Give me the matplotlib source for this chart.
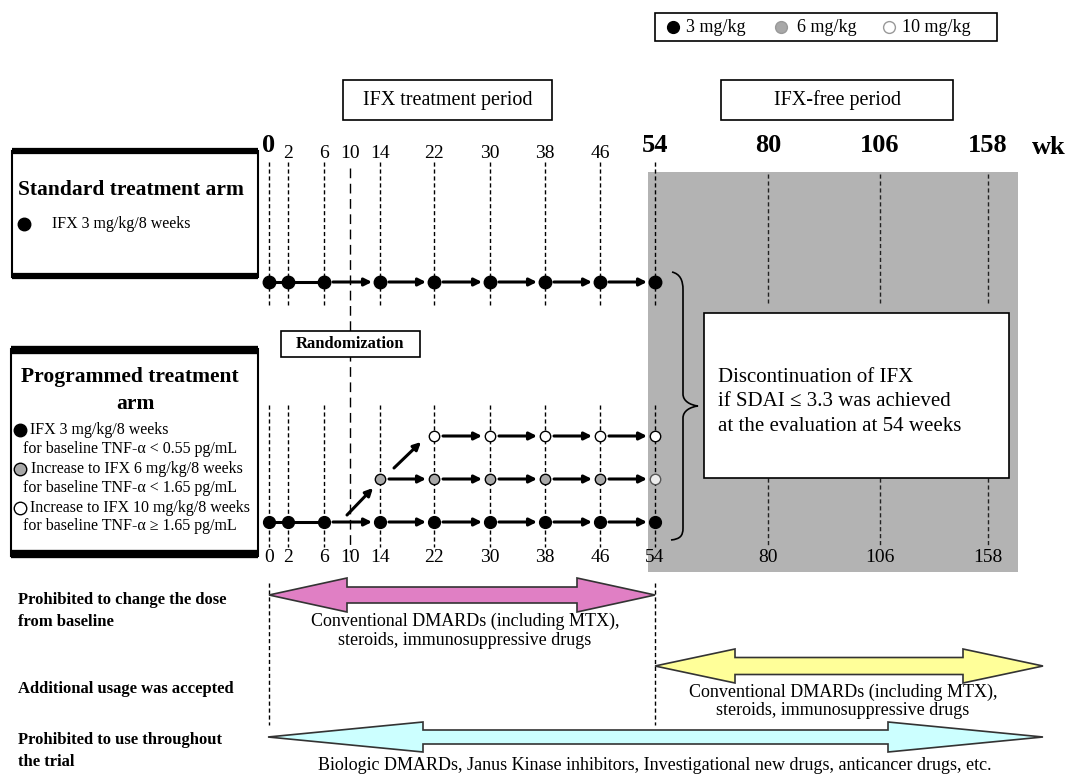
import matplotlib
matplotlib.use("Agg")
import matplotlib.pyplot as plt
from matplotlib.patches import Rectangle, Polygon, PathPatch
from matplotlib.path import Path

plt.rcParams['font.family'] = ['Liberation Serif', 'DejaVu Serif']

# ---- data ----
weeks = [0, 2, 6, 10, 14, 22, 30, 38, 46, 54, 80, 106, 158]
bold_weeks = [0, 54, 80, 106, 158]
dose_weeks = [0, 2, 6, 14, 22, 30, 38, 46, 54]
std_doses = [3, 3, 3, 3, 3, 3, 3, 3, 3]
prog_3_weeks = [0, 2, 6, 14, 22, 30, 38, 46, 54]
prog_6_weeks = [14, 22, 30, 38, 46, 54]
prog_10_weeks = [22, 30, 38, 46, 54]
legend_labels = ['3 mg/kg', '6 mg/kg', '10 mg/kg']
period_labels = ['IFX treatment period', 'IFX-free period']
rule_labels = ['Prohibited to change the dose\nfrom baseline',
               'Additional usage was accepted',
               'Prohibited to use throughout\nthe trial']
drug_text = ['Conventional DMARDs (including MTX),\nsteroids, immunosuppressive drugs',
             'Conventional DMARDs (including MTX),\nsteroids, immunosuppressive drugs',
             'Biologic DMARDs, Janus Kinase inhibitors, Investigational new drugs, anticancer drugs, etc.']

# ---- layout (pixel positions of the week grid) ----
week_x = dict(zip(weeks, [269, 288, 324, 350, 380, 434, 490, 545, 600, 655, 768, 880, 988]))
END_X = 1043
ROW_STD = 282
ROW_10, ROW_6, ROW_3 = 436, 479, 522
dose_color = {3: 'black', 6: '#a8a8a8', 10: 'white'}

fig = plt.figure(figsize=(10.69, 7.74), dpi=100)
ax = fig.add_axes([0, 0, 1, 1])
ax.set_xlim(0, 1069)
ax.set_ylim(774, 0)
ax.axis('off')

# grey IFX-free area
ax.add_patch(Rectangle((648, 172), 370, 400, facecolor='#b3b3b3', edgecolor='none', zorder=0))

# legend box
ax.add_patch(Rectangle((655, 13), 342, 28, facecolor='white', edgecolor='black', lw=1.2))
for (lx, tx), lab, d in zip([(673, 686), (781, 797), (889, 902)], legend_labels, [3, 6, 10]):
    ax.plot(lx, 27, 'o', ms=8.5, mfc=dose_color[d], mec='black' if d == 3 else '#999999', mew=1)
    ax.text(tx, 27, lab, fontsize=13, va='center', ha='left')

# period boxes
for (x0, x1), lab in zip([(343, 552), (721, 953)], period_labels):
    ax.add_patch(Rectangle((x0, 80), x1 - x0, 40, facecolor='white', edgecolor='black', lw=1.2))
    ax.text((x0 + x1) / 2, 100, lab, fontsize=14.5, ha='center', va='center')

# top week labels
for w in weeks:
    if w in bold_weeks:
        ax.text(week_x[w], 146, str(w), fontsize=19, fontweight='bold', ha='center', va='center')
    else:
        ax.text(week_x[w], 153, str(w), fontsize=14, ha='center', va='center')
ax.text(1066, 147, 'wk', fontsize=19, fontweight='bold', ha='right', va='center')

# bottom week labels
for w in weeks:
    ax.text(week_x[w], 557, str(w), fontsize=14, ha='center', va='center')

# dotted week lines
for w in weeks:
    x = week_x[w]
    if w == 10:
        ax.plot([x, x], [168, 552], color='black', lw=1, ls=(0, (7, 4)), zorder=1)
    elif w <= 54:
        ax.plot([x, x], [162, 305], color='black', lw=1, ls=(0, (3, 2)), zorder=1)
        ax.plot([x, x], [405, 547], color='black', lw=1, ls=(0, (3, 2)), zorder=1)
    else:
        ax.plot([x, x], [174, 303], color='#222222', lw=1, ls=(0, (3, 2)), zorder=1)
        ax.plot([x, x], [478, 545], color='#222222', lw=1, ls=(0, (3, 2)), zorder=1)


def dose_row(wlist, y, color, ms, first_line=False):
    xs = [week_x[w] for w in wlist]
    for i in range(len(xs) - 1):
        if first_line and wlist[i + 1] <= 6:
            ax.plot([xs[i], xs[i + 1]], [y, y], color='black', lw=2.2, zorder=2)
        else:
            ax.annotate('', xy=(xs[i + 1] - 8, y), xytext=(xs[i] + 9, y),
                        arrowprops=dict(arrowstyle='-|>', color='black', lw=2.2,
                                        mutation_scale=11, shrinkA=0, shrinkB=0), zorder=2)
    for w, x in zip(wlist, xs):
        fc = color
        ec = 'black'
        if w == 54 and color == dose_color[6]:
            fc, ec = '#ececec', '#555555'
        ax.plot(x, y, 'o', ms=ms, mfc=fc, mec=ec, mew=1, zorder=3)


# standard arm row
dose_row(dose_weeks, ROW_STD, dose_color[std_doses[0]], 9, first_line=True)
# programmed arm rows
dose_row(prog_3_weeks, ROW_3, dose_color[3], 8.5, first_line=True)
dose_row(prog_6_weeks, ROW_6, dose_color[6], 7.5)
dose_row(prog_10_weeks, ROW_10, dose_color[10], 7.5)
# dose escalation arrows
ax.annotate('', xy=(week_x[14] - 7, ROW_6 + 9), xytext=(week_x[10] - 3, ROW_3 - 7),
            arrowprops=dict(arrowstyle='-|>', color='black', lw=2.2, mutation_scale=11,
                            shrinkA=0, shrinkB=0))
ax.annotate('', xy=(week_x[22] - 13, ROW_10 + 6), xytext=(week_x[14] + 14, ROW_6 - 11),
            arrowprops=dict(arrowstyle='-|>', color='black', lw=2.2, mutation_scale=11,
                            shrinkA=0, shrinkB=0))

# randomization box
ax.add_patch(Rectangle((281, 331), 139, 26, facecolor='white', edgecolor='black', lw=1.2, zorder=4))
ax.text(350.5, 344, 'Randomization', fontsize=12, fontweight='bold', ha='center', va='center', zorder=5)

# standard arm box
ax.add_patch(Rectangle((12, 151), 246, 126, facecolor='white', edgecolor='black', lw=1.5))
ax.plot([12, 258], [151, 151], color='black', lw=4.5, solid_capstyle='butt')
ax.plot([12, 258], [276, 276], color='black', lw=4.5, solid_capstyle='butt')
ax.text(18, 190, 'Standard treatment arm', fontsize=15.5, fontweight='bold', va='center')
ax.plot(24, 224, 'o', ms=9, color='black')
ax.text(52, 224, 'IFX 3 mg/kg/8 weeks', fontsize=11.5, va='center')

# programmed arm box
ax.add_patch(Rectangle((11, 349), 247, 207, facecolor='white', edgecolor='black', lw=1.5))
ax.plot([11, 258], [350, 350], color='black', lw=6, solid_capstyle='butt')
ax.plot([11, 258], [554, 554], color='black', lw=6, solid_capstyle='butt')
ax.text(130, 377, 'Programmed treatment', fontsize=15.5, fontweight='bold', ha='center', va='center')
ax.text(135, 404, 'arm', fontsize=15.5, fontweight='bold', ha='center', va='center')
prog_lines = [('IFX 3 mg/kg/8 weeks', 30, 430), ('for baseline TNF-α < 0.55 pg/mL', 23, 449),
              ('Increase to IFX 6 mg/kg/8 weeks', 31, 469), ('for baseline TNF-α < 1.65 pg/mL', 23, 488),
              ('Increase to IFX 10 mg/kg/8 weeks', 30, 508), ('for baseline TNF-α ≥ 1.65 pg/mL', 23, 526)]
for txt, x, y in prog_lines:
    ax.text(x, y, txt, fontsize=11.5, va='center')
for y, d in zip([430, 469, 508], [3, 6, 10]):
    ax.plot(20, y, 'o', ms=9, mfc=dose_color[d], mec='black', mew=1)

# brace
brace = Path([(672, 272), (680, 274), (683, 280), (683, 290),
              (683, 394),
              (683, 401), (690, 405), (698, 406),
              (690, 407), (683, 411), (683, 418),
              (683, 528),
              (683, 536), (680, 539), (671, 540)],
             [Path.MOVETO, Path.CURVE4, Path.CURVE4, Path.CURVE4,
              Path.LINETO,
              Path.CURVE4, Path.CURVE4, Path.CURVE4,
              Path.CURVE4, Path.CURVE4, Path.CURVE4,
              Path.LINETO,
              Path.CURVE4, Path.CURVE4, Path.CURVE4])
ax.add_patch(PathPatch(brace, facecolor='none', edgecolor='black', lw=1.2))

# discontinuation box
ax.add_patch(Rectangle((704, 313), 305, 165, facecolor='white', edgecolor='black', lw=1.2))
ax.text(718, 402, 'Discontinuation of IFX\nif SDAI ≤ 3.3 was achieved\nat the evaluation at 54 weeks',
        fontsize=15, va='center', ha='left', linespacing=1.4)

# lower dashed guides
for w in [0, 54]:
    ax.plot([week_x[w], week_x[w]], [583, 725], color='black', lw=1, ls=(0, (3, 2)))


def double_arrow(x0, x1, yc, head_len, head_hw, shaft_hw, color):
    pts = [(x0, yc), (x0 + head_len, yc - head_hw), (x0 + head_len, yc - shaft_hw),
           (x1 - head_len, yc - shaft_hw), (x1 - head_len, yc - head_hw), (x1, yc),
           (x1 - head_len, yc + head_hw), (x1 - head_len, yc + shaft_hw),
           (x0 + head_len, yc + shaft_hw), (x0 + head_len, yc + head_hw)]
    ax.add_patch(Polygon(pts, closed=True, facecolor=color, edgecolor='#333333', lw=1.2, zorder=3))


double_arrow(week_x[0], week_x[54], 595, 78, 17, 8, '#e07fc4')
double_arrow(week_x[54], END_X, 666, 80, 17, 8.5, '#ffff99')
double_arrow(week_x[0] - 1, END_X, 737, 155, 15, 7, '#ccffff')

ax.text(465, 631, drug_text[0], fontsize=13, ha='center', va='center', linespacing=1.15)
ax.text(843, 701, drug_text[1], fontsize=13, ha='center', va='center', linespacing=1.1)
ax.text(655, 765, drug_text[2], fontsize=13, ha='center', va='center')

for txt, y in zip(rule_labels, [611, 689, 751]):
    ax.text(18, y, txt, fontsize=12, fontweight='bold', va='center', ha='left', linespacing=1.5)

fig.savefig('out.png', dpi=100)
